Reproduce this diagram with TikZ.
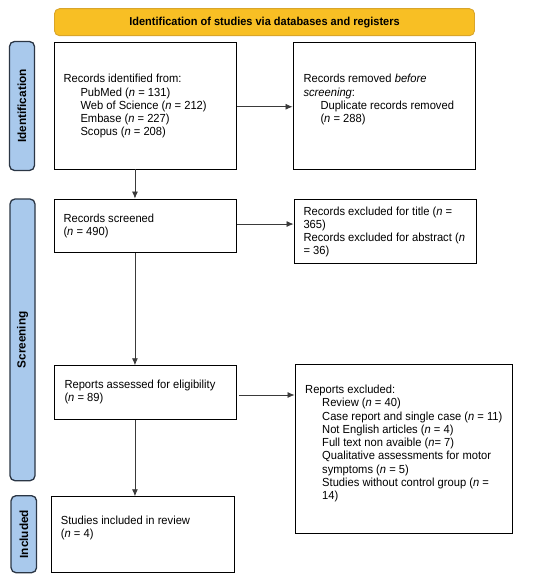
\documentclass[tikz,border=0pt]{standalone}
\usepackage{fontspec}
\setmainfont{Liberation Sans}
\newfontfamily\narrowfont{Liberation Sans}[FakeStretch=0.955]
\usetikzlibrary{arrows.meta}
\definecolor{bannerfill}{HTML}{F8BF24}
\definecolor{bannerdraw}{HTML}{D9A52A}
\definecolor{sidefill}{HTML}{A9C9EC}
\definecolor{sidedraw}{HTML}{2B3645}
\definecolor{arrowcol}{HTML}{3A3A3A}
\newcommand{\ind}{\hspace*{17pt}}
\newcommand{\nn}{\textit{n}}
\tikzset{
  box/.style={draw=black, line width=0.9pt, fill=white, inner sep=0pt},
  boxtext/.style={anchor=west, align=left, inner sep=0pt, font=\narrowfont\fontsize{11.7}{13.25}\selectfont},
  banner/.style={draw=bannerdraw, line width=0.9pt, fill=bannerfill, rounded corners=5pt, inner sep=0pt,
    font=\narrowfont\bfseries\fontsize{11.5}{13}\selectfont},
  side/.style={draw=sidedraw, line width=1.3pt, fill=sidefill, rounded corners=5pt, inner sep=0pt},
  sidetext/.style={rotate=90, inner sep=0pt, font=\bfseries\fontsize{11.8}{13}\selectfont},
  flow/.style={draw=arrowcol, line width=0.8pt, -{Latex[length=7pt,width=6pt]}}
}
\begin{document}
\begin{tikzpicture}[x=1pt,y=-1pt]
\useasboundingbox[fill=white] (0,0) rectangle (550,585);
% banner
\node[banner, minimum width=420pt, minimum height=27pt] (banner) at (264.5,22.2)
  {Identification of studies via databases and registers};
% side labels
\node[side, minimum width=25pt, minimum height=129pt] (sid) at (22,106) {};
\node[sidetext] (sidt) at (sid.center) {Identification};
\node[side, minimum width=25pt, minimum height=281.7pt] (sscr) at (22.5,339.85) {};
\node[sidetext] (sscrt) at (sscr.center) {Screening};
\node[side, minimum width=25.5pt, minimum height=77pt] (sinc) at (23.8,534.2) {};
\node[sidetext] (sinct) at (sinc.center) {Included};
% boxes
\node[box, minimum width=182.3pt, minimum height=126.3pt] (b1) at (145.15,105.85) {};
\node[box, minimum width=182.3pt, minimum height=126.3pt] (b2) at (384.15,105.85) {};
\node[box, minimum width=182.3pt, minimum height=53.3pt] (b3) at (145.15,225.65) {};
\node[box, minimum width=182.3pt, minimum height=64.3pt] (b4) at (385.15,231.15) {};
\node[box, minimum width=182.3pt, minimum height=53.6pt] (b5) at (145.15,392.5) {};
\node[box, minimum width=217.7pt, minimum height=169.3pt] (b6) at (403.85,448.65) {};
\node[box, minimum width=182.3pt, minimum height=76pt] (b7) at (142.85,534.7) {};
% texts
\node[boxtext] (t1) at (63.3,106.3) {Records identified from:\\
  \ind PubMed (\nn{} = 131)\\
  \ind Web of Science (\nn{} = 212)\\
  \ind Embase (\nn{} = 227)\\
  \ind Scopus (\nn{} = 208)};
\node[boxtext] (t2) at (303.3,99.7) {Records removed \textit{before}\\
  \textit{screening}:\\
  \ind Duplicate records removed\\
  \ind (\nn{} = 288)};
\node[boxtext] (t3) at (63.3,225.7) {Records screened\\(\nn{} = 490)};
\node[boxtext] (t4) at (303.3,232) {Records excluded for title (\nn{} =\\365)\\Records excluded for abstract (\nn\\= 36)};
\node[boxtext] (t5) at (64.3,392.2) {Reports assessed for eligibility\\(\nn{} = 89)};
\node[boxtext] (t6) at (305,443.5) {Reports excluded:\\
  \ind Review (\nn{} = 40)\\
  \ind Case report and single case (\nn{} = 11)\\
  \ind Not English articles (\nn{} = 4)\\
  \ind Full text non avaible (\nn= 7)\\
  \ind Qualitative assessments for motor\\
  \ind symptoms (\nn{} = 5)\\
  \ind Studies without control group (\nn{} =\\
  \ind 14)};
\node[boxtext] (t7) at (60.7,527.8) {Studies included in review\\(\nn{} = 4)};
% connectors
\draw[flow] ([yshift=-0.9pt]b1.east) -- ([yshift=-0.9pt]b1.east -| b2.west);
\draw[flow] ([yshift=1.6pt]b3.east) -- ([yshift=1.6pt]b3.east -| b4.west);
\draw[flow] ([xshift=2pt,yshift=-2.5pt]b5.east) -- ([yshift=-2.5pt]b5.east -| b6.west);
\draw[flow] ([xshift=-10.2pt]b1.south) -- ([xshift=-10.2pt]b1.south |- b3.north);
\draw[flow] ([xshift=-10.2pt]b3.south) -- ([xshift=-10.2pt]b3.south |- b5.north);
\draw[flow] ([xshift=-10.2pt]b5.south) -- ([xshift=-10.2pt]b5.south |- b7.north);
\end{tikzpicture}
\end{document}
